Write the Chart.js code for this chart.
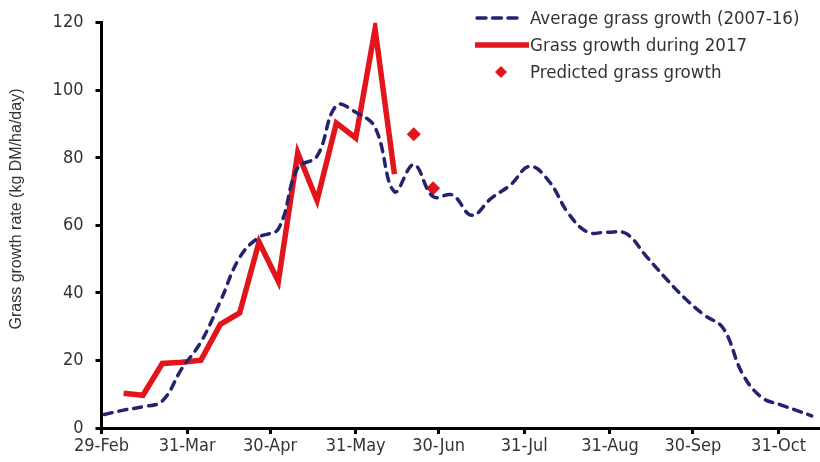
<!DOCTYPE html>
<html>
<head>
<meta charset="utf-8">
<script src="https://cdn.jsdelivr.net/npm/chart.js@4.4.1/dist/chart.umd.min.js"></script>
<style>
  body { margin: 0; background: #fff; }
  #wrap { position: relative; width: 820px; height: 462px; }
  #legend { position: absolute; left: 474px; top: 6px; font-family: "DejaVu Sans Condensed", "DejaVu Sans", sans-serif; font-size: 18.5px; color: #333; }
  .item { position: relative; height: 27px; line-height: 24px; padding-left: 56px; white-space: nowrap; }
  .item svg { position: absolute; left: 0; top: 0; }
</style>
</head>
<body>
<div id="wrap">
  <canvas id="grassChart" width="820" height="462"></canvas>
  <div id="legend">
    <div class="item"><svg width="56" height="24"><line x1="3" y1="12" x2="48" y2="12" stroke="#23236f" stroke-width="3.5" stroke-dasharray="9 6.5" stroke-linecap="round"/></svg>Average grass growth (2007-16)</div>
    <div class="item"><svg width="56" height="24"><line x1="1" y1="12" x2="55" y2="12" stroke="#e3151c" stroke-width="5.5"/></svg>Grass growth during 2017</div>
    <div class="item"><svg width="56" height="24"><polygon points="27,6 33,12 27,18 21,12" fill="#e3151c"/></svg>Predicted grass growth</div>
  </div>
</div>
<script>
// x = days after 29-Feb
const tickDays = [0, 31, 61, 92, 122, 153, 184, 214, 245];
const tickLabels = ["29-Feb", "31-Mar", "30-Apr", "31-May", "30-Jun", "31-Jul", "31-Aug", "30-Sep", "31-Oct"];

// Average grass growth (2007-16), weekly
const avgDays = [1, 8, 15, 22, 29, 36, 43, 50, 57, 64, 71, 78, 85, 92, 99, 106, 113, 120, 127, 134,
  141, 148, 155, 162, 169, 176, 183, 190, 197, 204, 211, 218, 225, 232, 239, 246, 253, 257];
const avgGrowth = [4, 5.3, 6.3, 8, 17.5, 25.5, 37.5, 50.5, 56.5, 59, 77, 80.5, 95.5, 93.5, 89, 70, 78, 68.5, 69, 63,
  68, 72, 77.5, 73, 63.5, 58, 58, 57.5, 51, 44.5, 38.5, 33.5, 29.5, 16, 9, 6.8, 4.8, 3.6];

// Grass growth during 2017
const days2017 = [8, 15, 22, 29, 36, 43, 50, 57, 64, 71, 78, 85, 92, 99, 106];
const growth2017 = [10.3, 9.7, 19.1, 19.5, 20.1, 30.7, 34.1, 55.1, 43.4, 81.5, 67.4, 90.3, 85.9, 118.2, 75.2];

// Predicted grass growth
const predDays = [113, 120];
const predGrowth = [87, 71];

const yTicks = [0, 20, 40, 60, 80, 100, 120];
const yTitle = 'Grass growth rate (kg DM/ha/day)';

const pts = (xs, ys) => xs.map((x, i) => ({ x: x, y: ys[i] }));

const tickFont = { family: '"DejaVu Sans Condensed", "DejaVu Sans", sans-serif', size: 18 };

const axisGrid = {
  drawOnChartArea: false,
  drawTicks: true,
  tickLength: 6,
  lineWidth: 3,
  color: '#000',
  tickColor: '#000'
};

// rotated y title, placed a bit above the middle like the original
const yTitlePlugin = {
  id: 'yTitle',
  afterDraw(chart) {
    const ctx = chart.ctx;
    ctx.save();
    ctx.translate(17, 209);
    ctx.rotate(-Math.PI / 2);
    ctx.font = '16px "Liberation Sans", Arial, sans-serif';
    ctx.fillStyle = '#333';
    ctx.textAlign = 'center';
    ctx.textBaseline = 'middle';
    ctx.fillText(yTitle, 0, 0);
    ctx.restore();
  }
};

const config = {
  type: 'line',
  data: {
    datasets: [{
      label: 'Average grass growth (2007-16)',
      data: pts(avgDays, avgGrowth),
      borderColor: '#23236f',
      borderWidth: 3.5,
      borderDash: [8, 7],
      borderCapStyle: 'round',
      tension: 0.4,
      pointRadius: 0
    }, {
      label: 'Grass growth during 2017',
      data: pts(days2017, growth2017),
      borderColor: '#e3151c',
      borderWidth: 5.5,
      tension: 0,
      pointRadius: 0
    }, {
      label: 'Predicted grass growth',
      data: pts(predDays, predGrowth),
      showLine: false,
      pointStyle: 'rectRot',
      pointRadius: 7,
      pointBackgroundColor: '#e3151c',
      pointBorderWidth: 0
    }]
  },
  options: {
    responsive: false,
    animation: false,
    layout: { autoPadding: false, padding: { top: 18, right: 0, left: 0, bottom: 0 } },
    plugins: { legend: { display: false }, tooltip: { enabled: false } },
    scales: {
      x: {
        type: 'linear',
        min: 0,
        max: 260,
        afterBuildTicks: (scale) => { scale.ticks = tickDays.map(v => ({ value: v })); },
        afterFit: (scale) => { scale.height = 34; scale.paddingRight = 0; scale.paddingLeft = 0; },
        ticks: {
          autoSkip: false,
          maxRotation: 0,
          padding: 2,
          color: '#333',
          font: tickFont,
          callback: (v) => tickLabels[tickDays.indexOf(v)]
        },
        grid: axisGrid,
        border: { display: true, width: 3, color: '#000' }
      },
      y: {
        min: 0,
        max: 120,
        afterBuildTicks: (scale) => { scale.ticks = yTicks.map(v => ({ value: v })); },
        afterFit: (scale) => { scale.width = 101.5; },
        ticks: {
          padding: 12,
          color: '#333',
          font: tickFont
        },
        grid: axisGrid,
        border: { display: true, width: 3, color: '#000' }
      }
    }
  },
  plugins: [yTitlePlugin]
};

const grassChart = new Chart(document.getElementById('grassChart'), config);
</script>
</body>
</html>
